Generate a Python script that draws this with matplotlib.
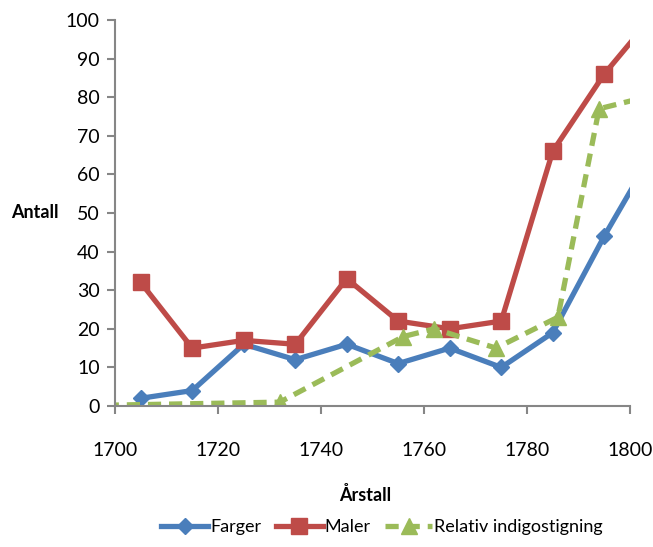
import matplotlib
matplotlib.use("Agg")
import matplotlib.pyplot as plt

plt.rcParams['font.family'] = ['Lato', 'DejaVu Sans']

years = [1705, 1715, 1725, 1735, 1745, 1755, 1765, 1775, 1785, 1795, 1805]
farger = [2, 4, 16, 12, 16, 11, 15, 10, 19, 44, 67]
maler = [32, 15, 17, 16, 33, 22, 20, 22, 66, 86, 102]

indigo_years = [1690, 1732, 1756, 1762, 1774, 1786, 1794, 1806]
indigo = [0, 1, 18, 20, 15, 23, 77, 81]

fig = plt.figure(figsize=(6.53, 5.47), dpi=100)
ax = fig.add_axes([115/653, 1-406/547, 515/653, 386/547])

ax.plot(years, farger, color='#4a7ebb', lw=3.8, marker='D', ms=8.5,
        label='Farger')
ax.plot(years, maler, color='#be4b48', lw=3.8, marker='s', ms=11,
        label='Maler')
ax.plot(indigo_years, indigo, color='#9bbb59', lw=3.8, ls=(0, (2.5, 1.5)),
        marker='^', ms=11, label='Relativ indigostigning')

ax.set_xlim(1700, 1800)
ax.set_ylim(0, 100)
ax.set_xticks(range(1700, 1801, 20))
ax.set_yticks(range(0, 101, 10))
for s in ['top', 'right']:
    ax.spines[s].set_visible(False)
for s in ['left', 'bottom']:
    ax.spines[s].set_color('#868686')
    ax.spines[s].set_linewidth(1.5)
ax.tick_params(colors='#868686', width=1.5, length=6, labelcolor='black',
               labelsize=14, pad=5)
ax.tick_params(axis='x', pad=20)

fig.text(35/653, 1-213/547, 'Antall', fontsize=13, fontweight='bold',
         ha='center', va='center')
fig.text(365/653, 1-495/547, 'Årstall', fontsize=13, fontweight='bold',
         ha='center', va='center')

fig.legend(loc='center', bbox_to_anchor=(382/653, 1-527/547), ncol=3,
           frameon=False, fontsize=13, handlelength=2.6, columnspacing=0.8,
           handletextpad=0.1)

fig.savefig('out.png', dpi=100)
